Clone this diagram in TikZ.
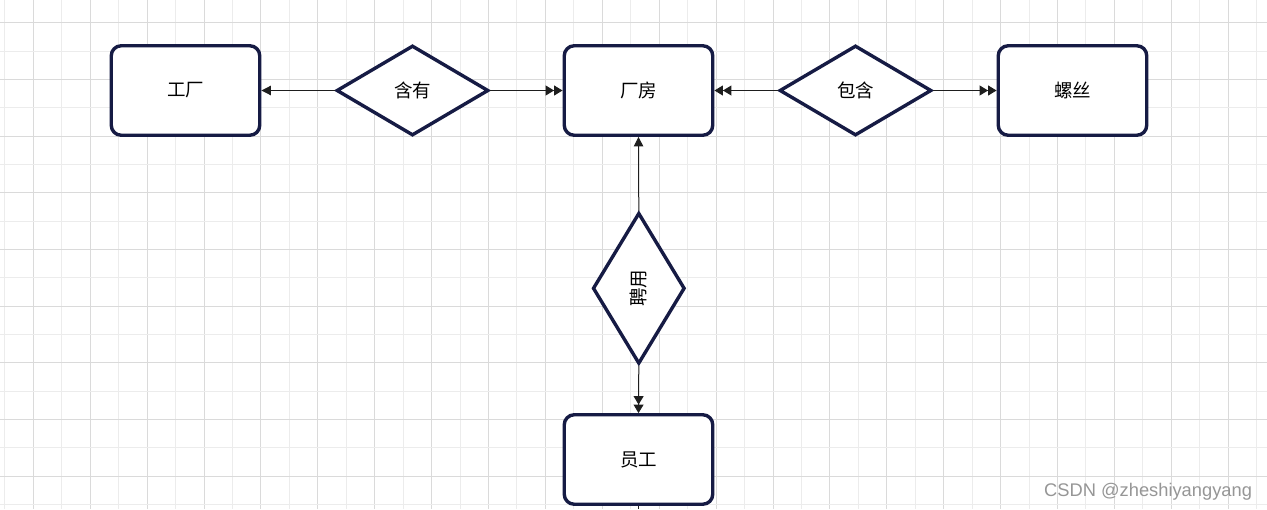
\documentclass[tikz,border=0pt]{standalone}
\usepackage{fontspec}
\setmainfont{Liberation Sans}
\newfontfamily\cjk{Noto Sans CJK SC}
\usetikzlibrary{shapes.geometric,arrows.meta}

\definecolor{gridmajor}{RGB}{218,218,218}
\definecolor{gridminor}{RGB}{236,236,236}
\definecolor{erborder}{RGB}{22,27,68}
\definecolor{linkcol}{RGB}{30,30,30}
\definecolor{markcol}{RGB}{150,150,150}

\tikzset{
  entity/.style={draw=erborder, line width=3.4pt, fill=white, rectangle,
    rounded corners=10pt, inner sep=0pt, minimum width=148.5pt,
    minimum height=89.5pt, font=\cjk\fontsize{18.5}{18.5}\selectfont},
  relation/.style={draw=erborder, line width=3.4pt, fill=white, diamond,
    inner sep=0pt, font=\cjk\fontsize{18.5}{18.5}\selectfont},
  hrel/.style={relation, minimum width=152pt, minimum height=90pt},
  vrel/.style={relation, minimum width=92pt, minimum height=151pt},
  link/.style={draw=linkcol, line width=1pt},
  one/.style={link, -{Triangle[length=9.5pt,width=9.5pt]}},
  many/.style={link, -{Triangle[length=8.5pt,width=10pt] Triangle[length=8.5pt,width=10pt]}},
}

\begin{document}
\begin{tikzpicture}[x=1pt, y=-1pt]
  % canvas and page size
  \fill[white] (0,0) rectangle (1267,509);
  \useasboundingbox (0,0) rectangle (1267,509);

  % background grid, alternating shades
  \begin{scope}
    \clip (0,0) rectangle (1267,509);
    \foreach \k in {-1,...,43} {
      \pgfmathsetmacro{\gx}{33.3+\k*28.45}
      \pgfmathtruncatemacro{\gpar}{mod(\k+2,2)}
      \ifnum\gpar=0
        \draw[gridmajor, line width=1pt] (\gx,0) -- (\gx,509);
      \else
        \draw[gridminor, line width=1pt] (\gx,0) -- (\gx,509);
      \fi
    }
    \foreach \k in {0,...,17} {
      \pgfmathsetmacro{\gy}{22.7+\k*28.35}
      \pgfmathtruncatemacro{\gpar}{mod(\k,2)}
      \ifnum\gpar=0
        \draw[gridmajor, line width=1pt] (0,\gy) -- (1267,\gy);
      \else
        \draw[gridminor, line width=1pt] (0,\gy) -- (1267,\gy);
      \fi
    }
  \end{scope}

  % entities
  \node[entity] (factory) at (185.5,90.5) {\raisebox{-1.5pt}{工厂}};
  \node[entity] (plant)   at (638.5,90.5) {\raisebox{-1.5pt}{厂房}};
  \node[entity] (screw)   at (1072.5,90.5) {\raisebox{-1.5pt}{螺丝}};
  \node[entity] (staff)   at (638.5,459.5) {\raisebox{-1.5pt}{员工}};

  % relationships
  \node[hrel] (has)      at (412.5,90.5) {\raisebox{-1.5pt}{含有}};
  \node[hrel] (contains) at (855.5,90.5) {\raisebox{-1.5pt}{包含}};
  \node[vrel] (hire)     at (638.8,288.3) {\rotatebox{90}{聘用}};

  % connectors
  \draw[one]  (has.west) -- (factory.east);
  \draw[many] (has.east) -- (plant.west);
  \draw[many] (contains.west) -- (plant.east);
  \draw[many] (contains.east) -- (screw.west);
  \draw[one]  (hire.north) -- (plant.south);
  \draw[many] (hire.south) -- (staff.north);
  \coordinate (down) at (638.5,509);
  \draw[link] (staff.south) -- (down);

  % watermark
  \node[anchor=base west, inner sep=0pt, text=markcol,
        font=\fontsize{18.3}{18.3}\selectfont] (mark) at (1044,496) {CSDN @zheshiyangyang};
\end{tikzpicture}
\end{document}
